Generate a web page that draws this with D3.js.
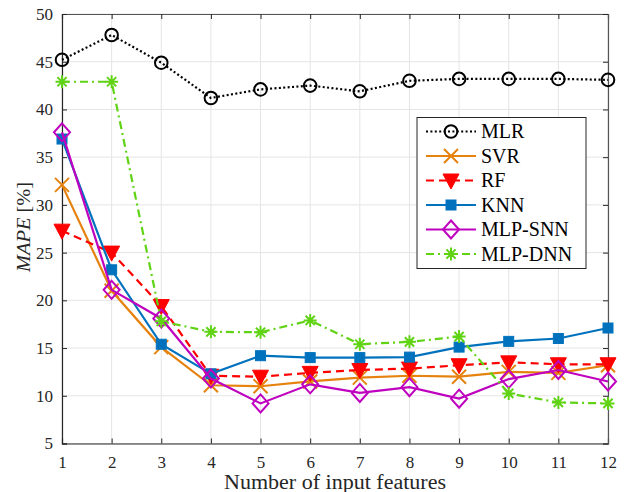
<!DOCTYPE html>
<html><head><meta charset="utf-8">
<script src="https://cdn.jsdelivr.net/npm/d3@7"></script>
<style>body{margin:0;background:#fff}svg{display:block}</style>
</head><body>
<svg id="c" width="628" height="492"></svg>
<script>
const features = [1,2,3,4,5,6,7,8,9,10,11,12];
const mlr  = [45.2, 47.8, 44.9, 41.2, 42.1, 42.5, 41.9, 43.0, 43.2, 43.2, 43.2, 43.1];
const svr  = [32.1, 21.0, 15.1, 11.1, 11.0, 11.5, 11.9, 12.1, 12.0, 12.5, 12.4, 13.2];
const rf   = [27.3, 25.0, 19.4, 12.1, 12.0, 12.4, 12.7, 12.85, 13.2, 13.5, 13.3, 13.3];
const knn  = [36.9, 23.2, 15.4, 12.3, 14.2, 14.0, 14.0, 14.05, 15.1, 15.7, 16.0, 17.1];
const snn  = [37.6, 21.1, 18.1, 11.8, 9.2, 11.2, 10.3, 10.9, 9.7, 11.75, 12.7, 11.5];
const dnn  = [42.9, 42.9, 17.8, 16.7, 16.65, 17.9, 15.4, 15.65, 16.2, 10.25, 9.3, 9.2];
const seriesNames = ["MLR","SVR","RF","KNN","MLP-SNN","MLP-DNN"];
const yTicks = [5,10,15,20,25,30,35,40,45,50];
const xTicks = features;

const styles = [
  {color:"#000000", dash:"2,2.4", marker:"circle"},
  {color:"#E6820E", dash:null, marker:"x"},
  {color:"#FF0000", dash:"8,5", marker:"tri"},
  {color:"#0072BD", dash:null, marker:"square"},
  {color:"#BF00BF", dash:null, marker:"diamond"},
  {color:"#5FD314", dash:"8,4,2,4", marker:"star"}
];
const values = [mlr, svr, rf, knn, snn, dnn];

const L=62, R=608, T=14, B=443.5;
const svg = d3.select("#c");
const x = d3.scaleLinear().domain([1,12]).range([L,R]);
const y = d3.scaleLinear().domain([5,50]).range([B,T]);
const font = "'Liberation Serif', serif";

// grid
const g = svg.append("g");
g.selectAll(".gx").data(xTicks).join("line").attr("x1",d=>x(d)).attr("x2",d=>x(d)).attr("y1",T).attr("y2",B)
 .attr("stroke","#e5e5e5").attr("stroke-width",1);
g.selectAll(".gy").data(yTicks).join("line").attr("y1",d=>y(d)).attr("y2",d=>y(d)).attr("x1",L).attr("x2",R)
 .attr("stroke","#e5e5e5").attr("stroke-width",1);

// axes
const axCol = "#262626";
const xa = svg.append("g").attr("transform",`translate(0,${B})`)
  .call(d3.axisBottom(x).tickValues(xTicks).tickSize(-5).tickPadding(12).tickFormat(d3.format("d")));
const xt = svg.append("g").attr("transform",`translate(0,${T})`)
  .call(d3.axisTop(x).tickValues(xTicks).tickSize(-5).tickFormat(""));
const ya = svg.append("g").attr("transform",`translate(${L},0)`)
  .call(d3.axisLeft(y).tickValues(yTicks).tickSize(-5).tickPadding(9).tickFormat(d3.format("d")));
const yr = svg.append("g").attr("transform",`translate(${R},0)`)
  .call(d3.axisRight(y).tickValues(yTicks).tickSize(-5).tickFormat(""));
[xa,xt,ya,yr].forEach(a=>{
  a.select(".domain").attr("stroke",axCol).attr("stroke-width",1.2);
  a.selectAll(".tick line").attr("stroke",axCol).attr("stroke-width",1);
  a.selectAll("text").attr("fill","#262626").style("font-family",font).style("font-size","17px");
});
xt.select(".domain").attr("stroke","#555");
yr.select(".domain").attr("stroke","#555");

// markers
function drawMarker(sel, type, color){
  if(type==="circle"){
    sel.append("circle").attr("r",6.3).attr("fill","none").attr("stroke",color).attr("stroke-width",2);
  } else if(type==="x"){
    sel.append("path").attr("d","M-7,-7L7,7M-7,7L7,-7").attr("stroke",color).attr("stroke-width",2).attr("fill","none");
  } else if(type==="tri"){
    sel.append("path").attr("d","M-8,-6.5L8,-6.5L0,8.5Z").attr("fill",color).attr("stroke",color).attr("stroke-width",1);
  } else if(type==="square"){
    sel.append("rect").attr("x",-5).attr("y",-5).attr("width",10).attr("height",10).attr("fill",color).attr("stroke",color).attr("stroke-width",1);
  } else if(type==="diamond"){
    sel.append("path").attr("d","M0,-9L8,0L0,9L-8,0Z").attr("fill","none").attr("stroke",color).attr("stroke-width",2);
  } else if(type==="star"){
    sel.append("path").attr("d","M0,-6.5L0,6.5M-6.5,0L6.5,0M-4.6,-4.6L4.6,4.6M-4.6,4.6L4.6,-4.6").attr("stroke",color).attr("stroke-width",2).attr("fill","none");
  }
}

const line = d3.line().x((d,i)=>x(features[i])).y(d=>y(d));
values.forEach((vals,si)=>{
  const st = styles[si];
  const sg = svg.append("g");
  sg.append("path").attr("d",line(vals)).attr("fill","none").attr("stroke",st.color)
    .attr("stroke-width",2.2).attr("stroke-dasharray",st.dash);
  vals.forEach((v,i)=>{
    const m = sg.append("g").attr("transform",`translate(${x(features[i])},${y(v)})`);
    drawMarker(m, st.marker, st.color);
  });
});

// legend
const lg = svg.append("g");
lg.append("rect").attr("x",417).attr("y",117.5).attr("width",169).attr("height",151)
  .attr("fill","#fff").attr("stroke","#262626").attr("stroke-width",1);
seriesNames.forEach((name,i)=>{
  const st = styles[i];
  const yy = 131.5 + i*24.5;
  lg.append("line").attr("x1",426).attr("x2",476).attr("y1",yy).attr("y2",yy)
    .attr("stroke",st.color).attr("stroke-width",2.2).attr("stroke-dasharray",st.dash);
  const m = lg.append("g").attr("transform",`translate(451,${yy})`);
  drawMarker(m, st.marker, st.color);
  lg.append("text").attr("x",481).attr("y",yy+6.5).text(name)
    .style("font-family",font).style("font-size","20px").attr("fill","#000");
});

// axis labels
svg.append("text").attr("x",(L+R)/2).attr("y",489).attr("text-anchor","middle")
  .attr("textLength",222).attr("lengthAdjust","spacingAndGlyphs")
  .style("font-family",font).style("font-size","20px").attr("fill","#262626")
  .text("Number of input features");
const yl = svg.append("text").attr("transform","translate(30,227) rotate(-90)").attr("text-anchor","middle")
  .attr("textLength",90).attr("lengthAdjust","spacingAndGlyphs")
  .style("font-family",font).style("font-size","19px").attr("fill","#262626");
yl.append("tspan").style("font-style","italic").text("MAPE");
yl.append("tspan").text(" [%]");
</script>
</body></html>
